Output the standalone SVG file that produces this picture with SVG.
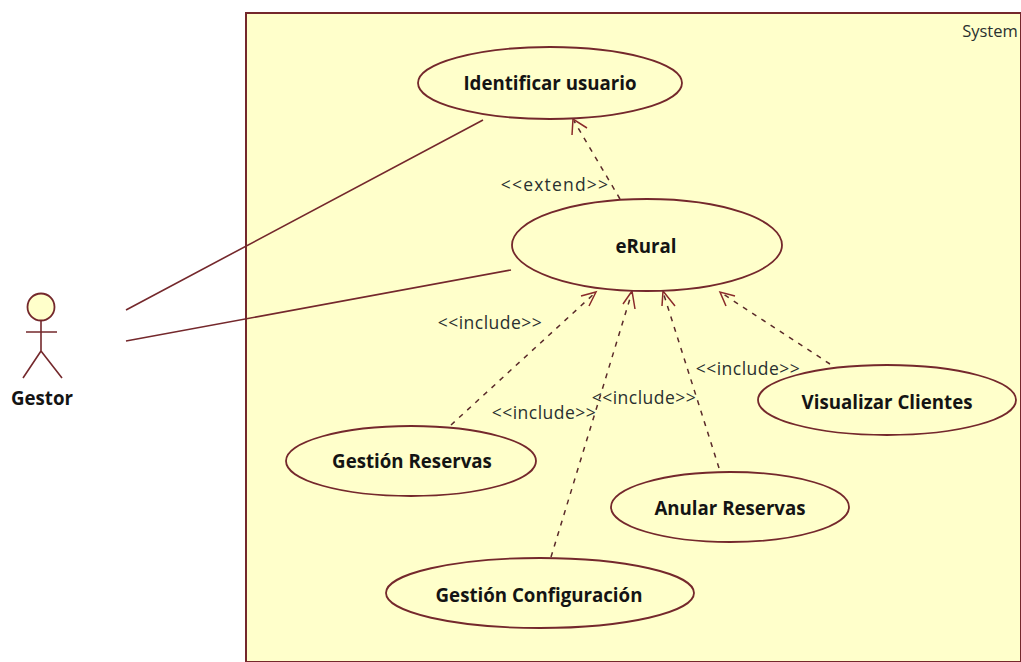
<svg xmlns="http://www.w3.org/2000/svg" width="1021" height="662" viewBox="0 0 1021 662">
<style>
.l{fill:none;stroke:#74282c;stroke-width:1.6}
.u{fill:#ffffcb;stroke:#74282c;stroke-width:1.8}
.d{fill:none;stroke:#5a2a2a;stroke-width:1.5;stroke-dasharray:5 6}
.a{fill:none;stroke:#8a2a2a;stroke-width:1.5}
.n{font:bold 18.7px "Open Sans","DejaVu Sans",sans-serif;fill:#141414;text-anchor:middle}
.t{font:16.5px "Open Sans","Liberation Sans",sans-serif;fill:#2a3030;text-anchor:middle}
.i{font:17.5px "Open Sans","Liberation Sans",sans-serif;fill:#2a3030;text-anchor:middle;letter-spacing:.5px}
.e{letter-spacing:1.2px}
</style>
<rect width="1021" height="662" fill="#fff"/>
<g id="system"><path d="M1021 13H246V662H1021Z" fill="#ffffcb" stroke="#74282c" stroke-width="2"/><text class="t" x="990" y="37">System</text></g>
<g id="connectors">
<path class="l" d="M126 310L483 120M126 341L511 270"/>
<path class="d" d="M620 199L574 121"/>
<path class="a" d="M572 135L573 119L587 128"/>
<path class="d" d="M451 425L596 292"/>
<path class="a" d="M581 296L596 292L589 306"/>
<path class="d" d="M551 557L632 292"/>
<path class="a" d="M623 304L632 291L635 309"/>
<path class="d" d="M719 468L663 292"/>
<path class="a" d="M662 306L663 291L675 306"/>
<path class="d" d="M830 364L720 292"/>
<path class="a" d="M726 306L720 292L735 296"/>
</g>
<g id="labels">
<text class="i e" x="555" y="191">&lt;&lt;extend&gt;&gt;</text>
<text class="i" x="490" y="329">&lt;&lt;include&gt;&gt;</text>
<text class="i" x="544" y="419">&lt;&lt;include&gt;&gt;</text>
<text class="i" x="644" y="404">&lt;&lt;include&gt;&gt;</text>
<text class="i" x="748" y="375">&lt;&lt;include&gt;&gt;</text>
</g>
<g id="gestor">
<circle class="u" cx="41" cy="307" r="13.5"/>
<path class="l" d="M41 321V351M26 332H57M41 351L23 378M41 351L62 378"/>
<text class="n" x="42" y="405">Gestor</text>
</g>
<g id="identificar"><ellipse class="u" cx="550" cy="83" rx="132" ry="36"/><text class="n" x="550" y="90">Identificar usuario</text></g>
<g id="erural"><ellipse class="u" cx="647" cy="245" rx="135" ry="46"/><text class="n" x="646" y="253">eRural</text></g>
<g id="reservas"><ellipse class="u" cx="411" cy="461" rx="125" ry="35"/><text class="n" x="412" y="468">Gestión Reservas</text></g>
<g id="anular"><ellipse class="u" cx="730" cy="507" rx="119" ry="35"/><text class="n" x="730" y="515">Anular Reservas</text></g>
<g id="clientes"><ellipse class="u" cx="887" cy="400" rx="129" ry="35"/><text class="n" x="887" y="409">Visualizar Clientes</text></g>
<g id="configuracion"><ellipse class="u" cx="540" cy="593" rx="154" ry="35"/><text class="n" x="539" y="602">Gestión Configuración</text></g>
</svg>
